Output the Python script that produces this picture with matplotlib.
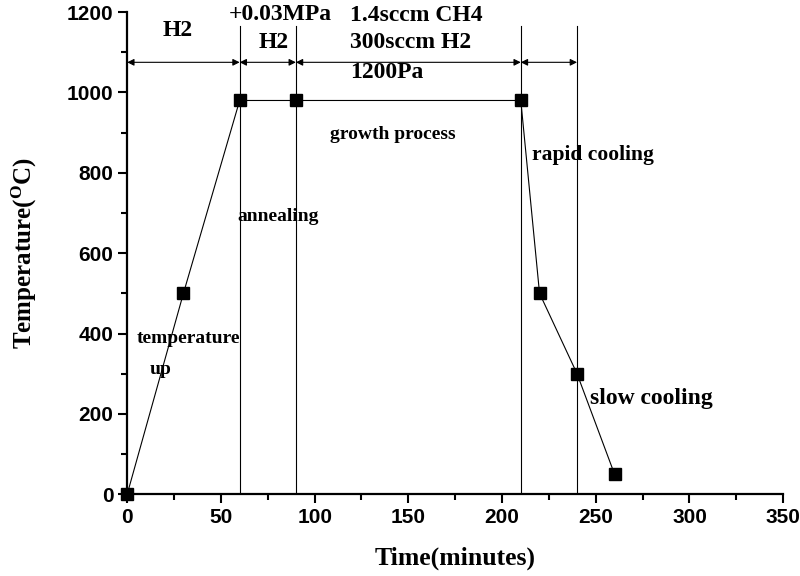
import matplotlib
matplotlib.use("Agg")
import matplotlib.pyplot as plt
from matplotlib.ticker import MultipleLocator

# process data
time_min = [0, 30, 60, 90, 210, 220, 240, 260]
temp_c = [0, 500, 980, 980, 980, 500, 300, 50]

stage_bounds = [0, 60, 90, 210, 240]
stage_marks = [60, 90, 210, 240]

serif = ['Liberation Serif', 'DejaVu Serif']
narrow = ['Liberation Sans Narrow', 'Liberation Sans', 'DejaVu Sans']

plt.rcParams['mathtext.default'] = 'regular'

fig = plt.figure(figsize=(8, 5.76), dpi=100)
ax = fig.add_axes([0.159, 0.142, 0.82, 0.837])

ax.plot(time_min, temp_c, color='black', lw=0.8, marker='s', markersize=8,
        markerfacecolor='black', markeredgecolor='black', clip_on=False, zorder=3)

for x in stage_marks:
    ax.plot([x, x], [0, 1165], color='black', lw=0.8)

for a, b in zip(stage_bounds[:-1], stage_bounds[1:]):
    ax.annotate('', xy=(b, 1075), xytext=(a, 1075),
                arrowprops=dict(arrowstyle='<|-|>', color='black', lw=0.8,
                                mutation_scale=10, shrinkA=0, shrinkB=0))

bold = dict(fontfamily=serif, fontweight='bold', color='black')
ax.text(27, 1155, 'H2', ha='center', va='center', fontsize=17, **bold)
ax.text(54, 1195, '+0.03MPa', ha='left', va='center', fontsize=17, **bold)
ax.text(78, 1125, 'H2', ha='center', va='center', fontsize=17, **bold)
ax.text(119, 1192, '1.4sccm CH4', ha='left', va='center', fontsize=17, **bold)
ax.text(119, 1125, '300sccm H2', ha='left', va='center', fontsize=17, **bold)
ax.text(119, 1050, '1200Pa', ha='left', va='center', fontsize=17, **bold)
ax.text(108, 896, 'growth process', ha='left', va='center', fontsize=14, **bold)
ax.text(59, 690, 'annealing', ha='left', va='center', fontsize=14, **bold)
ax.text(216, 844, 'rapid cooling', ha='left', va='center', fontsize=15.5, **bold)
ax.text(5, 388, 'temperature', ha='left', va='center', fontsize=14, **bold)
ax.text(12, 311, 'up', ha='left', va='center', fontsize=14, **bold)
ax.text(247, 239, 'slow cooling', ha='left', va='center', fontsize=17, **bold)

ax.set_xlim(0, 350)
ax.set_ylim(0, 1200)
ax.xaxis.set_major_locator(MultipleLocator(50))
ax.xaxis.set_minor_locator(MultipleLocator(25))
ax.yaxis.set_major_locator(MultipleLocator(200))
ax.yaxis.set_minor_locator(MultipleLocator(100))

for side in ['top', 'right']:
    ax.spines[side].set_visible(False)
for side in ['left', 'bottom']:
    ax.spines[side].set_linewidth(1.6)

ax.tick_params(which='major', direction='out', length=6.5, width=1.5)
ax.tick_params(which='minor', direction='out', length=4, width=1.5)
for lab in ax.get_xticklabels() + ax.get_yticklabels():
    lab.set_fontfamily(narrow)
    lab.set_fontweight('bold')
    lab.set_fontsize(15)

ax.set_xlabel('Time(minutes)', fontsize=18.5, labelpad=14, **bold)
ax.set_ylabel(r'Temperature($^{O}$C)', fontsize=18, labelpad=20, **bold)

fig.savefig('out.png', dpi=100)
